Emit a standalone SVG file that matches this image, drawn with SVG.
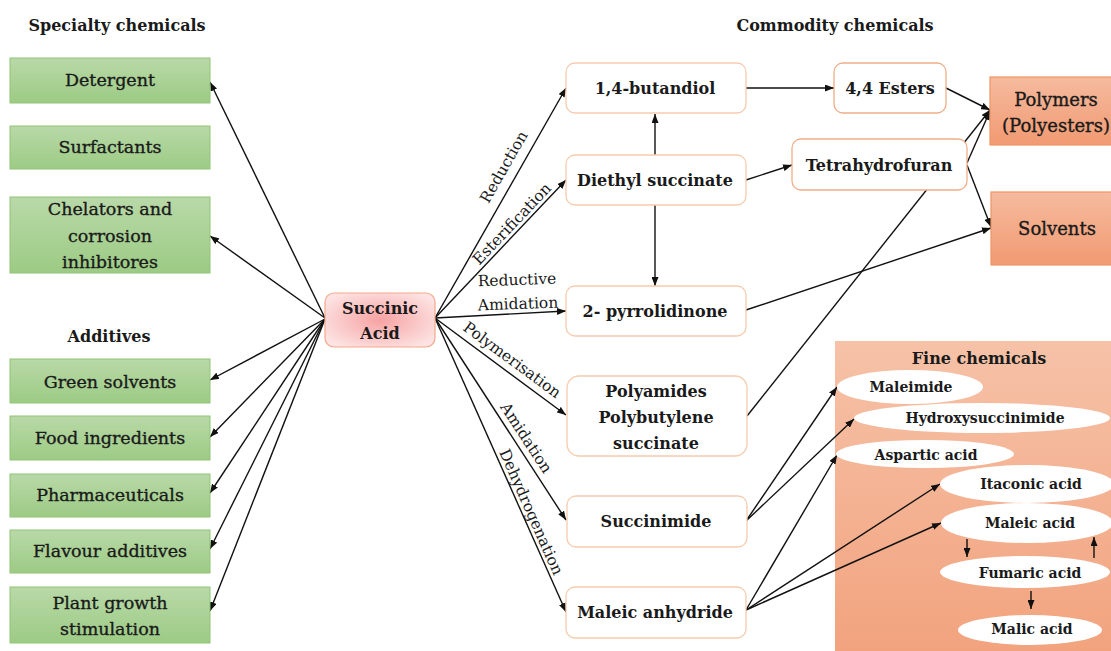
<svg xmlns="http://www.w3.org/2000/svg" width="1111" height="651" viewBox="0 0 1111 651">
<defs>
<linearGradient id="gGreen" x1="0" y1="0" x2="0" y2="1"><stop offset="0" stop-color="#b9d9a8"/><stop offset="1" stop-color="#9ccb84"/></linearGradient>
<radialGradient id="gPink" cx="0.5" cy="0.5" r="0.6"><stop offset="0" stop-color="#f7a2a2"/><stop offset="1" stop-color="#fde3e3"/></radialGradient>
<linearGradient id="gSalmon" x1="0" y1="0" x2="0" y2="1"><stop offset="0" stop-color="#f5bb9e"/><stop offset="1" stop-color="#f19a72"/></linearGradient>
<linearGradient id="gFine" x1="0" y1="0" x2="0" y2="1"><stop offset="0" stop-color="#f6c2a8"/><stop offset="1" stop-color="#f2a37e"/></linearGradient>
<marker id="ah" markerUnits="userSpaceOnUse" markerWidth="9" markerHeight="7" refX="9" refY="3.5" orient="auto"><path d="M0,0 L9,3.5 L0,7 z" fill="#111"/></marker>
<style>
text{font-family:"DejaVu Serif","Liberation Serif",serif;fill:#1a1a1a;text-anchor:middle;dominant-baseline:central}
.hd{font-weight:bold;font-size:16px}
.gb{fill:url(#gGreen);stroke:#8fc474;stroke-width:1}
.gt{font-size:17.5px;stroke:#1a1a1a;stroke-width:0.35}
.mn{fill:#fff;stroke:#f8cbad;stroke-width:1.3}
.mn2{fill:#fff;stroke:#f0ae86;stroke-width:1.3}
.mt{font-weight:bold;font-size:16px}
.sal{fill:url(#gSalmon);stroke:#ee9466;stroke-width:1.2}
.st{font-size:18px;stroke:#1a1a1a;stroke-width:0.35}
.el{fill:#fff}
.et{font-weight:bold;font-size:14px}
.lb{font-size:15.5px}
.cn line,.cn path{stroke:#111;stroke-width:1.4;fill:none;marker-end:url(#ah)}
</style>
</defs>
<rect width="1111" height="651" fill="#fff"/>

<g id="fine-bg">
<rect x="835" y="341" width="276" height="310" fill="url(#gFine)"/>
<text x="979" y="358" style="font-weight:bold;font-size:16px">Fine chemicals</text>
</g>

<g id="connectors" class="cn">
<line x1="325" y1="318" x2="210" y2="82"/>
<line x1="325" y1="318" x2="210" y2="236"/>
<line x1="325" y1="319" x2="210" y2="380"/>
<line x1="325" y1="319" x2="210" y2="437"/>
<line x1="325" y1="319" x2="210" y2="493"/>
<line x1="325" y1="319" x2="210" y2="549"/>
<line x1="325" y1="319" x2="210" y2="611"/>
<line x1="435" y1="318" x2="566" y2="88"/>
<line x1="435" y1="318" x2="566" y2="180"/>
<line x1="435" y1="318" x2="566" y2="311"/>
<line x1="435" y1="318" x2="566" y2="415"/>
<line x1="435" y1="318" x2="566" y2="520"/>
<line x1="435" y1="318" x2="566" y2="612"/>
<line x1="655" y1="155" x2="655" y2="114"/>
<line x1="655" y1="205" x2="655" y2="286"/>
<line x1="746" y1="88" x2="834" y2="88"/>
<line x1="746" y1="180" x2="792" y2="165"/>
<line x1="946" y1="88" x2="990" y2="110"/>
<line x1="747" y1="416" x2="990" y2="110"/>
<line x1="967" y1="163" x2="990" y2="111"/>
<line x1="967" y1="165" x2="991" y2="227"/>
<line x1="746" y1="310" x2="991" y2="228"/>
<line x1="746" y1="521" x2="837" y2="387"/>
<line x1="746" y1="521" x2="854" y2="419"/>
<line x1="746" y1="610" x2="837" y2="455"/>
<line x1="746" y1="610" x2="940" y2="484"/>
<line x1="746" y1="610" x2="941" y2="523"/>
</g>

<g id="labels">
<text class="lb" transform="translate(504,167) rotate(-60.3)">Reduction</text>
<text class="lb" transform="translate(512,224) rotate(-46.5)">Esterification</text>
<text class="lb" transform="translate(517,280) rotate(-2)">Reductive</text>
<text class="lb" transform="translate(518,304) rotate(-2)">Amidation</text>
<text class="lb" transform="translate(512,360) rotate(36.3)">Polymerisation</text>
<text class="lb" transform="translate(526,438) rotate(56.8)">Amidation</text>
<text class="lb" transform="translate(531,512) rotate(66.1)">Dehydrogenation</text>
</g>

<g id="headers">
<text class="hd" x="117" y="25">Specialty chemicals</text>
<text class="hd" x="109" y="336">Additives</text>
<text class="hd" x="835" y="25">Commodity chemicals</text>
</g>

<g id="detergent"><rect class="gb" x="10" y="58" width="200" height="45"/><text class="gt" x="110" y="80">Detergent</text></g>
<g id="surfactants"><rect class="gb" x="10" y="126" width="200" height="43"/><text class="gt" x="110" y="147">Surfactants</text></g>
<g id="chelators"><rect class="gb" x="10" y="197" width="200" height="76"/><text class="gt" x="110" y="209">Chelators and</text><text class="gt" x="110" y="236">corrosion</text><text class="gt" x="110" y="262">inhibitores</text></g>
<g id="green-solvents"><rect class="gb" x="10" y="359" width="200" height="44"/><text class="gt" x="110" y="382">Green solvents</text></g>
<g id="food"><rect class="gb" x="10" y="416" width="200" height="44"/><text class="gt" x="110" y="438">Food ingredients</text></g>
<g id="pharma"><rect class="gb" x="10" y="474" width="200" height="43"/><text class="gt" x="110" y="495">Pharmaceuticals</text></g>
<g id="flavour"><rect class="gb" x="10" y="530" width="200" height="43"/><text class="gt" x="110" y="551">Flavour additives</text></g>
<g id="plant"><rect class="gb" x="10" y="587" width="200" height="56"/><text class="gt" x="110" y="603">Plant growth</text><text class="gt" x="110" y="629">stimulation</text></g>

<g id="succinic"><rect x="325" y="293" width="110" height="54" rx="9" fill="url(#gPink)" stroke="#f4a88a" stroke-width="1.2"/><text class="mt" x="380" y="308">Succinic</text><text class="mt" x="380" y="333">Acid</text></g>

<g id="butandiol"><rect class="mn" x="566" y="63" width="180" height="50" rx="9"/><text class="mt" x="655" y="88">1,4-butandiol</text></g>
<g id="diethyl"><rect class="mn" x="566" y="155" width="180" height="50" rx="9"/><text class="mt" x="655" y="180">Diethyl succinate</text></g>
<g id="pyrrolidinone"><rect class="mn" x="566" y="286" width="180" height="50" rx="9"/><text class="mt" x="655" y="311">2- pyrrolidinone</text></g>
<g id="polyamides"><rect class="mn" x="567" y="376" width="180" height="80" rx="12"/><text class="mt" x="656" y="391">Polyamides</text><text class="mt" x="656" y="417">Polybutylene</text><text class="mt" x="656" y="443">succinate</text></g>
<g id="succinimide"><rect class="mn" x="567" y="496" width="180" height="51" rx="9"/><text class="mt" x="656" y="521">Succinimide</text></g>
<g id="maleic-anhydride"><rect class="mn" x="566" y="587" width="180" height="51" rx="9"/><text class="mt" x="655" y="612">Maleic anhydride</text></g>

<g id="esters"><rect class="mn2" x="834" y="63" width="112" height="50" rx="9"/><text class="mt" x="890" y="88">4,4 Esters</text></g>
<g id="thf"><rect class="mn2" x="792" y="139" width="175" height="51" rx="9"/><text class="mt" x="879" y="165">Tetrahydrofuran</text></g>

<g id="polymers"><rect class="sal" x="990" y="77" width="130" height="68"/><text class="st" x="1056" y="99">Polymers</text><text class="st" x="1056" y="125">(Polyesters)</text></g>
<g id="solvents"><rect class="sal" x="991" y="192" width="130" height="73"/><text class="st" x="1057" y="228">Solvents</text></g>

<g id="maleimide"><ellipse class="el" cx="910" cy="387" rx="73" ry="17"/><text class="et" x="911" y="387">Maleimide</text></g>
<g id="hydroxysuccinimide"><ellipse class="el" cx="982" cy="418" rx="128" ry="15"/><text class="et" x="985" y="418">Hydroxysuccinimide</text></g>
<g id="aspartic"><ellipse class="el" cx="925" cy="454" rx="89" ry="14"/><text class="et" x="926" y="455">Aspartic acid</text></g>
<g id="itaconic"><ellipse class="el" cx="1027" cy="484" rx="87" ry="19"/><text class="et" x="1031" y="484">Itaconic acid</text></g>
<g id="maleic-acid"><ellipse class="el" cx="1027" cy="523" rx="86" ry="20"/><text class="et" x="1030" y="523">Maleic acid</text></g>
<g id="fumaric"><ellipse class="el" cx="1025" cy="572" rx="85" ry="16"/><text class="et" x="1030" y="573">Fumaric acid</text></g>
<g id="malic"><ellipse class="el" cx="1030" cy="630" rx="72" ry="15"/><text class="et" x="1032" y="629">Malic acid</text></g>

<g id="fine-connectors" class="cn">
<line x1="967" y1="539" x2="967" y2="557"/>
<line x1="1094" y1="558" x2="1094" y2="537"/>
<line x1="1031" y1="591" x2="1031" y2="609"/>
</g>
</svg>
